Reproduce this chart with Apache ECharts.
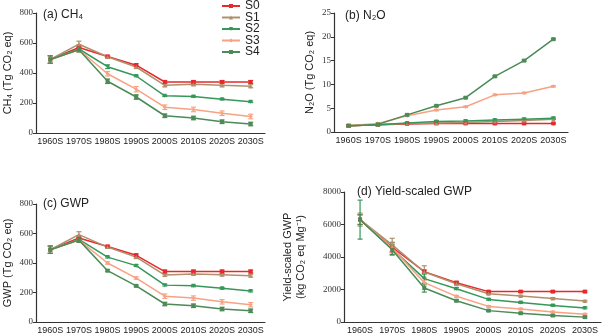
<!DOCTYPE html>
<html>
<head>
<meta charset="utf-8">
<script src="https://cdn.jsdelivr.net/npm/echarts@6/dist/echarts.min.js"></script>
<style>
  html, body { margin: 0; padding: 0; background: #fff; }
  #chart { width: 602px; height: 335px; }
</style>
</head>
<body>
<div id="chart"></div>
<script>
const cats = ['1960S', '1970S', '1980S', '1990S', '2000S', '2010S', '2020S', '2030S'];
const names = ['S0', 'S1', 'S2', 'S3', 'S4'];
const colors = ['#e8282b', '#b0906c', '#35985a', '#f8a283', '#4c8a57'];
const symbols = ['rect', 'triangle', 'triangle', 'diamond', 'rect'];
const symbolRot = [0, 0, 180, 0, 0];

// (a) CH4
const ch4S0 = [490, 570, 510, 452, 340, 340, 340, 340];
const ch4S1 = [490, 592, 508, 440, 318, 325, 318, 312];
const ch4S2 = [490, 560, 442, 380, 248, 243, 225, 208];
const ch4S3 = [490, 555, 395, 292, 172, 157, 132, 110];
const ch4S4 = [490, 555, 345, 240, 115, 100, 75, 60];
const ch4Err = [
  [25, 15, 8, 10, 10, 10, 10, 10],
  [25, 20, 8, 10, 10, 10, 10, 10],
  [25, 15, 12, 5, 5, 5, 5, 5],
  [25, 15, 15, 18, 15, 15, 15, 15],
  [25, 15, 15, 15, 12, 12, 12, 12]
];

// (b) N2O
const n2oS0 = [1.3, 1.5, 1.7, 1.8, 1.8, 1.8, 1.8, 1.8];
const n2oS1 = [1.3, 1.5, 1.8, 1.9, 2.0, 2.2, 2.4, 2.7];
const n2oS2 = [1.3, 1.5, 1.9, 2.2, 2.3, 2.5, 2.7, 2.9];
const n2oS3 = [1.3, 1.8, 3.4, 4.6, 5.3, 7.8, 8.2, 9.6];
const n2oS4 = [1.3, 1.6, 3.6, 5.5, 7.2, 11.7, 15.0, 19.5];
const n2oErr = [
  [0.15, 0.15, 0.1, 0.1, 0.1, 0.1, 0.1, 0.1],
  [0.15, 0.15, 0.1, 0.1, 0.1, 0.1, 0.1, 0.1],
  [0.15, 0.15, 0.15, 0.2, 0.2, 0.2, 0.2, 0.2],
  [0.15, 0.15, 0.15, 0.15, 0.15, 0.15, 0.15, 0.15],
  [0.15, 0.15, 0.15, 0.15, 0.15, 0.15, 0.15, 0.15]
];

// (c) GWP
const gwpS0 = [490, 570, 512, 452, 342, 342, 342, 342];
const gwpS1 = [490, 592, 508, 440, 318, 325, 320, 313];
const gwpS2 = [490, 560, 440, 382, 250, 245, 228, 210];
const gwpS3 = [490, 555, 400, 298, 175, 162, 137, 117];
const gwpS4 = [490, 555, 348, 245, 122, 110, 88, 76];
const gwpErr = [
  [25, 15, 8, 10, 10, 10, 10, 10],
  [25, 20, 8, 10, 8, 8, 8, 8],
  [25, 15, 6, 6, 6, 6, 6, 6],
  [25, 15, 8, 8, 15, 15, 15, 15],
  [25, 15, 6, 6, 12, 12, 12, 12]
];

// (d) Yield-scaled GWP
const ygS0 = [6300, 4600, 3100, 2420, 1870, 1870, 1870, 1870];
const ygS1 = [6300, 4750, 3080, 2350, 1740, 1600, 1450, 1290];
const ygS2 = [6300, 4500, 2670, 2050, 1390, 1200, 1020, 860];
const ygS3 = [6300, 4550, 2420, 1580, 960, 800, 620, 480];
const ygS4 = [6300, 4450, 2090, 1310, 700, 540, 400, 300];
const ygErr = [
  [300, 300, 100, 80, 50, 50, 50, 50],
  [400, 400, 380, 80, 50, 50, 50, 50],
  [1200, 380, 280, 60, 50, 50, 50, 50],
  [300, 300, 150, 60, 50, 50, 50, 50],
  [300, 300, 250, 60, 50, 50, 50, 50]
];

const panels = [
  { data: [ch4S0, ch4S1, ch4S2, ch4S3, ch4S4], err: ch4Err, max: 800, interval: 200,
    grid: { left: 33, top: 13, width: 232, height: 120 },
    yName: 'CH₄ (Tg CO₂ eq)', nameGap: 22,
    title: '(a) CH₄', tx: 38, ty: 4 },
  { data: [n2oS0, n2oS1, n2oS2, n2oS3, n2oS4], err: n2oErr, max: 25, interval: 5,
    grid: { left: 334, top: 13, width: 234, height: 119 },
    yName: 'N₂O (Tg CO₂ eq)', nameGap: 18,
    title: '(b) N₂O', tx: 340, ty: 5 },
  { data: [gwpS0, gwpS1, gwpS2, gwpS3, gwpS4], err: gwpErr, max: 800, interval: 200,
    grid: { left: 33, top: 204, width: 232, height: 120 },
    yName: 'GWP (Tg CO₂ eq)', nameGap: 22,
    title: '(c) GWP', tx: 38, ty: 193 },
  { data: [ygS0, ygS1, ygS2, ygS3, ygS4], err: ygErr, max: 8000, interval: 2000,
    grid: { left: 344, top: 192, width: 257, height: 130 },
    yName: 'Yield-scaled GWP\n(kg CO₂ eq Mg⁻¹)', nameGap: 37,
    title: '(d) Yield-scaled GWP', tx: 352, ty: 181 }
];

function renderErr(params, api) {
  const x = api.value(0);
  const lo = api.coord([x, api.value(1)]);
  const hi = api.coord([x, api.value(2)]);
  const c = api.visual('color');
  const w = 2.5;
  const st = { stroke: c, lineWidth: 1.2 };
  return {
    type: 'group',
    children: [
      { type: 'line', shape: { x1: lo[0], y1: lo[1], x2: hi[0], y2: hi[1] }, style: st },
      { type: 'line', shape: { x1: lo[0] - w, y1: lo[1], x2: lo[0] + w, y2: lo[1] }, style: st },
      { type: 'line', shape: { x1: hi[0] - w, y1: hi[1], x2: hi[0] + w, y2: hi[1] }, style: st }
    ]
  };
}

const font = 'Liberation Sans';
const grids = [], xAxes = [], yAxes = [], series = [], titles = [];

panels.forEach(function (p, k) {
  grids.push(p.grid);
  xAxes.push({
    type: 'category', gridIndex: k, data: cats, boundaryGap: true,
    axisLine: { lineStyle: { color: '#333', width: 1.2 } },
    axisTick: { alignWithLabel: true, length: 3, lineStyle: { color: '#333' } },
    axisLabel: { color: '#222', fontSize: 9, fontFamily: font, margin: 4, interval: 0 }
  });
  yAxes.push({
    type: 'value', gridIndex: k, min: 0, max: p.max, interval: p.interval,
    name: p.yName, nameLocation: 'middle', nameGap: p.nameGap, nameRotate: 90,
    nameTextStyle: { color: '#222', fontSize: 11, fontFamily: font, lineHeight: 13 },
    axisLine: { show: true, lineStyle: { color: '#333', width: 1.2 } },
    axisTick: { show: true, length: 3, lineStyle: { color: '#333' } },
    axisLabel: { color: '#333', fontSize: 9, fontFamily: 'Liberation Serif', margin: 3,
      formatter: function (v) { return String(v); } },
    splitLine: { show: false }
  });
  titles.push({
    text: p.title, left: p.tx, top: p.ty,
    textStyle: { fontSize: 12, fontWeight: 'normal', color: '#222', fontFamily: font }
  });
  p.data.forEach(function (vals, s) {
    series.push({
      name: names[s] + ' err',
      type: 'custom', xAxisIndex: k, yAxisIndex: k,
      renderItem: renderErr,
      itemStyle: { color: colors[s] },
      data: vals.map(function (v, i) { return [i, v - p.err[s][i], v + p.err[s][i]]; }),
      encode: { x: 0, y: [1, 2] },
      silent: true, z: 2
    });
  });
  p.data.forEach(function (vals, s) {
    series.push({
      name: names[s], type: 'line', xAxisIndex: k, yAxisIndex: k,
      data: vals,
      symbol: symbols[s], symbolRotate: symbolRot[s], symbolSize: 4,
      itemStyle: { color: colors[s] },
      lineStyle: { color: colors[s], width: 1.5 },
      z: 3
    });
  });
});

const chart = echarts.init(document.getElementById('chart'));
chart.setOption({
  animation: false,
  backgroundColor: '#fff',
  title: titles,
  legend: {
    data: names, orient: 'vertical', left: 221, top: 0, padding: 0,
    itemWidth: 18, itemHeight: 5, itemGap: -0.5,
    textStyle: { fontSize: 12, lineHeight: 10, color: '#222', fontFamily: font }
  },
  grid: grids,
  xAxis: xAxes,
  yAxis: yAxes,
  series: series
});
</script>
</body>
</html>
